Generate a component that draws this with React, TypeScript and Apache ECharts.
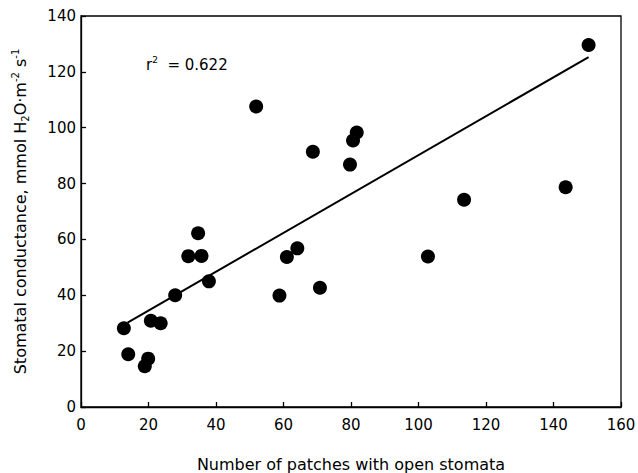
import React, { useEffect, useRef } from "react";
import * as echarts from "echarts";

const points: [number, number][] = [
  [12.7, 28.2], [14.0, 18.9], [18.9, 14.6], [19.9, 17.3], [20.7, 30.9],
  [23.6, 30.0], [27.9, 40.0], [31.8, 54.0], [34.7, 62.2], [35.7, 54.1],
  [37.9, 45.0], [51.9, 107.6], [58.8, 39.9], [61.0, 53.7], [64.1, 56.8],
  [68.7, 91.4], [70.8, 42.7], [79.7, 86.8], [80.6, 95.4], [81.7, 98.3],
  [102.8, 53.9], [113.5, 74.2], [143.6, 78.7], [150.4, 129.6],
];
const fitLine: [number, number][] = [[13.8, 30.2], [150.4, 125.3]];
const rSquared = "0.622";

const FONT = "DejaVu Sans";
const INK = "#000";

export default function App() {
  const ref = useRef<HTMLDivElement>(null);
  useEffect(() => {
    if (!ref.current) return;
    const chart = echarts.init(ref.current, undefined, { renderer: "svg" });
    chart.setOption({
      animation: false,
      backgroundColor: "#fff",
      grid: {
        left: 81, right: 17, top: 16, bottom: 66,
        containLabel: false, outerBoundsMode: "none",
        show: true, borderColor: INK, borderWidth: 1.3, backgroundColor: "transparent",
      },
      xAxis: {
        type: "value", min: 0, max: 160, interval: 20,
        name: "Number of patches with open stomata",
        nameLocation: "middle", nameGap: 49,
        nameTextStyle: { fontFamily: FONT, fontSize: 16, color: INK },
        axisLine: { show: true, onZero: false, lineStyle: { color: INK, width: 1.3 } },
        axisTick: { show: true, inside: true, length: 5, lineStyle: { color: INK, width: 1.3 } },
        axisLabel: { fontFamily: FONT, fontSize: 15, color: INK, margin: 10 },
        splitLine: { show: false },
      },
      yAxis: {
        type: "value", min: 0, max: 140, interval: 20,
        name: "{a|Stomatal conductance, mmol H}{sub|2}{a|O·m}{sup|-2}{a| s}{sup|-1}",
        nameLocation: "middle", nameGap: 51,
        nameTextStyle: {
          fontFamily: FONT, fontSize: 16, color: INK,
          rich: {
            a: { fontFamily: FONT, fontSize: 16, color: INK, lineHeight: 20 },
            sub: { fontFamily: FONT, fontSize: 10, color: INK, lineHeight: 9, verticalAlign: "bottom" },
            sup: { fontFamily: FONT, fontSize: 10, color: INK, lineHeight: 9, verticalAlign: "top" },
          },
        },
        axisLine: { show: true, onZero: false, lineStyle: { color: INK, width: 1.3 } },
        axisTick: { show: true, inside: true, length: 5, lineStyle: { color: INK, width: 1.3 } },
        axisLabel: { fontFamily: FONT, fontSize: 15, color: INK, margin: 5 },
        splitLine: { show: false },
      },
      graphic: [
        {
          type: "text", left: 146, top: 55,
          style: {
            text: "{a|r}{sup|2}{a|  = " + rSquared + "}",
            rich: {
              a: { fontFamily: FONT, fontSize: 15, fill: INK, lineHeight: 20 },
              sup: { fontFamily: FONT, fontSize: 9, fill: INK, lineHeight: 11, verticalAlign: "top" },
            },
          },
        },
      ],
      series: [
        {
          type: "line", data: fitLine, showSymbol: false, symbol: "none",
          lineStyle: { color: INK, width: 2 }, z: 1,
        },
        {
          type: "scatter", data: points, symbol: "circle", symbolSize: 14,
          itemStyle: { color: INK, opacity: 1 }, z: 2,
        },
      ],
    });
    return () => chart.dispose();
  }, []);
  return <div ref={ref} style={{ width: 638, height: 473, position: "absolute", left: 0, top: 0 }} />;
}
